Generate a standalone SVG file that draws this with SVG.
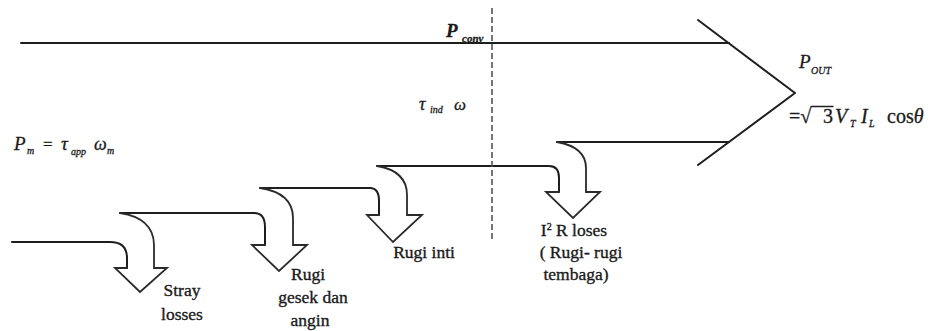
<svg xmlns="http://www.w3.org/2000/svg" width="931" height="331" viewBox="0 0 931 331">
<style>
.ln{fill:none;stroke:#1e1e1e;stroke-width:2;stroke-linejoin:round;stroke-linecap:round}
.ar{fill:none;stroke:#2a2a2a;stroke-width:1.8;stroke-linejoin:miter;stroke-linecap:round}
.dash{fill:none;stroke:#555;stroke-width:1.6;stroke-dasharray:6 3}
.m{font-family:"Liberation Serif","Times New Roman",serif;font-style:italic;fill:#1a1a1a;stroke:#1a1a1a;stroke-width:0.3}
.u{font-family:"Liberation Serif","Times New Roman",serif;font-style:normal;fill:#1a1a1a;stroke:#1a1a1a;stroke-width:0.3}
.t{font-family:"Liberation Serif","Times New Roman",serif;font-size:17.5px;fill:#1a1a1a;stroke:#1a1a1a;stroke-width:0.35;text-anchor:middle}
</style>
<rect width="931" height="331" fill="#ffffff"/>
<g id="connectors">
  <path class="ln" d="M21,43 L729,43"/>
  <path class="ln" d="M698,20 L795,93 L698,165"/>
  <path class="ln" d="M12,242 L110,242 C122,242 127,248 127,258 L127,268"/>
  <path class="ln" d="M120,213 L254,213 C262,213 265,218 265,227 L265,245"/>
  <path class="ln" d="M260,188 L370,188 C377,188 379,194 379,201 L379,215"/>
  <path class="ln" d="M377,166 L549,166 C556,166 559,171 559,178 L559,192"/>
  <path class="ln" d="M557,142 L729,142"/>
  <path class="dash" d="M492,8 L492,242"/>
</g>
<g id="stray">
  <path class="ar" d="M120,213 C140,216 154,226 154,245 L154,268 L167,268 L140,292 L115,268 L127,268"/>
  <text class="t" x="182" y="296">Stray</text>
  <text class="t" x="182" y="320">losses</text>
</g>
<g id="rugi-gesek">
  <path class="ar" d="M260,188 C280,191 293,200 293,218 L293,245 L307,245 L279,271 L252,245 L265,245"/>
  <text class="t" x="308" y="280">Rugi</text>
  <text class="t" x="313" y="303">gesek dan</text>
  <text class="t" x="310" y="326">angin</text>
</g>
<g id="rugi-inti">
  <path class="ar" d="M377,166 C395,169 407,178 407,195 L407,215 L422,215 L393,242 L367,215 L379,215"/>
  <text class="t" x="424" y="258">Rugi inti</text>
</g>
<g id="i2r">
  <path class="ar" d="M557,142 C574,145 586,152 586,168 L586,192 L600,192 L573,218 L546,192 L559,192"/>
  <text class="t" x="574" y="236">I<tspan font-size="10" dy="-6">2</tspan><tspan dy="6"> R loses</tspan></text>
  <text class="t" x="581" y="258">( Rugi- rugi</text>
  <text class="t" x="576" y="280">tembaga)</text>
</g>
<g id="p-in">
  <text class="m" x="14" y="150" font-size="19">P</text>
  <text class="m" x="27" y="154" font-size="10">m</text>
  <text class="u" x="43" y="150" font-size="17">=</text>
  <text class="m" x="61" y="150" font-size="19">τ</text>
  <text class="m" x="71" y="155" font-size="10">app</text>
  <text class="m" x="94" y="150" font-size="18">ω</text>
  <text class="m" x="107" y="154" font-size="10">m</text>
</g>
<g id="p-conv">
  <text class="m" x="446" y="37" font-size="19" font-weight="bold">P</text>
  <text class="m" x="462" y="42" font-size="11" font-weight="bold">conv</text>
</g>
<g id="tau-ind">
  <text class="m" x="419" y="110" font-size="18">τ</text>
  <text class="m" x="430" y="113" font-size="10">ind</text>
  <text class="m" x="454" y="110" font-size="17">ω</text>
</g>
<g id="p-out">
  <text class="m" x="799" y="68" font-size="19">P</text>
  <text class="m" x="811" y="74" font-size="10">OUT</text>
  <text class="u" x="789" y="123" font-size="20">=√</text>
  <path class="ln" d="M811,106.5 L833,106.5" style="stroke-width:1.3"/>
  <text class="u" x="823" y="123" font-size="20">3</text>
  <text class="m" x="835" y="123" font-size="20">V</text>
  <text class="m" x="850" y="127" font-size="10">T</text>
  <text class="m" x="861" y="123" font-size="20">I</text>
  <text class="m" x="869" y="127" font-size="10">L</text>
  <text class="u" x="887" y="123" font-size="20">cos<tspan style="font-style:italic">θ</tspan></text>
</g>
</svg>
